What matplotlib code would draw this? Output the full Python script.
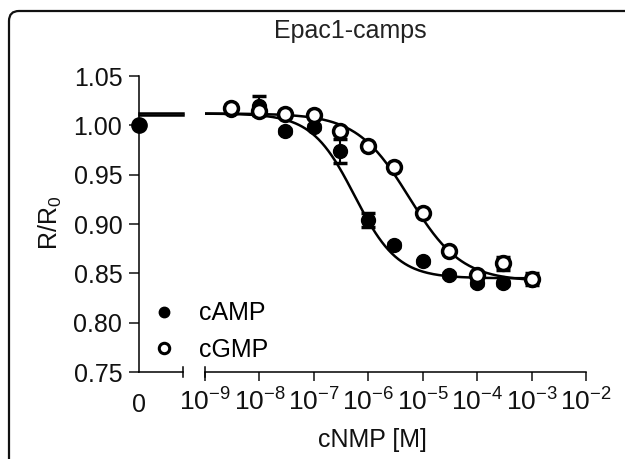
import numpy as np
import matplotlib

matplotlib.use("Agg")
from matplotlib import pyplot as plt
from matplotlib.patches import PathPatch
from matplotlib.path import Path
from matplotlib.transforms import IdentityTransform
from matplotlib.lines import Line2D

plt.rcParams["font.family"] = ["Liberation Sans", "DejaVu Sans"]
plt.rcParams["mathtext.fontset"] = "custom"
plt.rcParams["mathtext.rm"] = "Liberation Sans"
plt.rcParams["mathtext.it"] = "Liberation Sans:italic"

# concentrations (M) and responses R/R0
conc = [3e-9, 1e-8, 3e-8, 1e-7, 3e-7, 1e-6, 3e-6, 1e-5, 3e-5, 1e-4, 3e-4, 1e-3]
camp = [1.016, 1.020, 0.994, 0.998, 0.974, 0.904, 0.879, 0.862, 0.848, 0.840, 0.840, 0.843]
camp_err = [0.004, 0.010, 0.002, 0.002, 0.012, 0.007, 0.002, 0.002, 0.002, 0.002, 0.002, 0.002]
cgmp = [1.018, 1.015, 1.011, 1.010, 0.994, 0.979, 0.9575, 0.911, 0.873, 0.848, 0.860, 0.844]
cgmp_err = [0.003, 0.005, 0.002, 0.002, 0.002, 0.002, 0.002, 0.002, 0.002, 0.002, 0.007, 0.006]
zero_value = 1.00

# sigmoidal fit parameters: top, bottom, logEC50, hill slope
camp_fit = (1.012, 0.845, -6.25, 1.1)
cgmp_fit = (1.012, 0.842, -5.25, 0.9)

xticks = [1e-9, 1e-8, 1e-7, 1e-6, 1e-5, 1e-4, 1e-3, 1e-2]
yticks = [0.75, 0.80, 0.85, 0.90, 0.95, 1.00, 1.05]


def hill(logx, top, bottom, logec50, slope):
    return bottom + (top - bottom) / (1 + 10 ** ((logx - logec50) * slope))


W, H = 625, 459
FS = 18
fig = plt.figure(figsize=(W / 100, H / 100), dpi=100)

# rounded frame, only top-left corner visible (pixel coords, y up)
x0, ytop, r = 9, H - 11, 10
verts = [(x0, -20), (x0, ytop - r), (x0, ytop), (x0 + r, ytop), (W + 20, ytop)]
codes = [Path.MOVETO, Path.LINETO, Path.CURVE3, Path.CURVE3, Path.LINETO]
fig.add_artist(PathPatch(Path(verts, codes), transform=IdentityTransform(),
                         fill=False, edgecolor="#111111", linewidth=1.6))

bottom_px, top_px = 372, 76
ax_b = 1 - bottom_px / H
ax_h = (bottom_px - top_px) / H
ax0 = fig.add_axes([139 / W, ax_b, 44 / W, ax_h])
ax1 = fig.add_axes([205 / W, ax_b, 381 / W, ax_h])

lw_axis = 1.1
for ax in (ax0, ax1):
    ax.set_ylim(0.75, 1.05)
    for s in ("top", "right"):
        ax.spines[s].set_visible(False)
    ax.spines["bottom"].set_linewidth(lw_axis)
    ax.spines["left"].set_linewidth(lw_axis)
    ax.tick_params(axis="both", direction="out", width=lw_axis, labelsize=FS,
                   colors="#111111")
    ax.tick_params(axis="x", length=6.5, pad=5)
    ax.tick_params(axis="y", length=7, pad=5)

# zero segment
ax0.set_xlim(0, 1)
ax0.set_yticks(yticks)
ax0.set_yticklabels([f"{v:.2f}" for v in yticks])
ax0.set_xticks([0])
ax0.set_xticklabels(["0"])
ax0.tick_params(axis="x", length=0, pad=15)
ax0.plot([0, 1], [camp_fit[0], camp_fit[0]], color="black", lw=1.8, clip_on=False)
ax0.plot([0, 1], [cgmp_fit[0] - 0.002, cgmp_fit[0] - 0.002], color="black", lw=1.8, clip_on=False)
ax0.plot([0], [zero_value], "o", ms=11, mfc="black", mec="black", clip_on=False, zorder=5)
ax0.plot([1, 1], [0.745, 0.755], color="black", lw=lw_axis, clip_on=False)

# log segment
ax1.set_xscale("log")
ax1.set_xlim(1e-9, 1e-2)
ax1.spines["left"].set_visible(False)
ax1.set_yticks([])
ax1.minorticks_off()
ax1.set_xticks(xticks)
ax1.set_xticklabels([r"$\mathregular{10^{%d}}$" % int(np.log10(v)) for v in xticks])
ax1.tick_params(axis="x", labelsize=19)
ax1.plot([1e-9, 1e-9], [0.745, 0.755], color="black", lw=lw_axis, clip_on=False)

logx = np.linspace(-9, -3, 300)
ax1.plot(10 ** logx, hill(logx, *camp_fit), color="black", lw=1.8)
ax1.plot(10 ** logx, hill(logx, *cgmp_fit), color="black", lw=1.8)

ax1.errorbar(conc, camp, yerr=camp_err, fmt="o", ms=10, mfc="black", mec="black",
             ecolor="black", elinewidth=1.5, capsize=5, capthick=2.5, zorder=4)
ax1.errorbar(conc, cgmp, yerr=cgmp_err, fmt="o", ms=10, mfc="white", mec="black",
             mew=2.5, ecolor="black", elinewidth=1.5, capsize=5, capthick=2.5, zorder=5)

handles = [
    Line2D([], [], ls="none", marker="o", ms=7.5, mfc="black", mec="black"),
    Line2D([], [], ls="none", marker="o", ms=7.5, mfc="white", mec="black", mew=2.2),
]
fig.legend(handles, ["cAMP", "cGMP"], loc="upper left",
           bbox_to_anchor=(136 / W, 1 - 289 / H), frameon=False, fontsize=FS,
           handlelength=1.2, handletextpad=0.8, labelspacing=0.5, borderpad=0)

fig.text(350 / W, 1 - 31 / H, "Epac1-camps", ha="center", va="center",
         fontsize=FS, color="#222222")
fig.text(50 / W, 1 - 223 / H, r"R/R$_\mathregular{0}$", ha="center", va="center",
         rotation=90, fontsize=FS, color="#111111")
fig.text(372 / W, 1 - 440 / H, "cNMP [M]", ha="center", va="center",
         fontsize=FS, color="#111111")

fig.savefig("out.png", dpi=100)
